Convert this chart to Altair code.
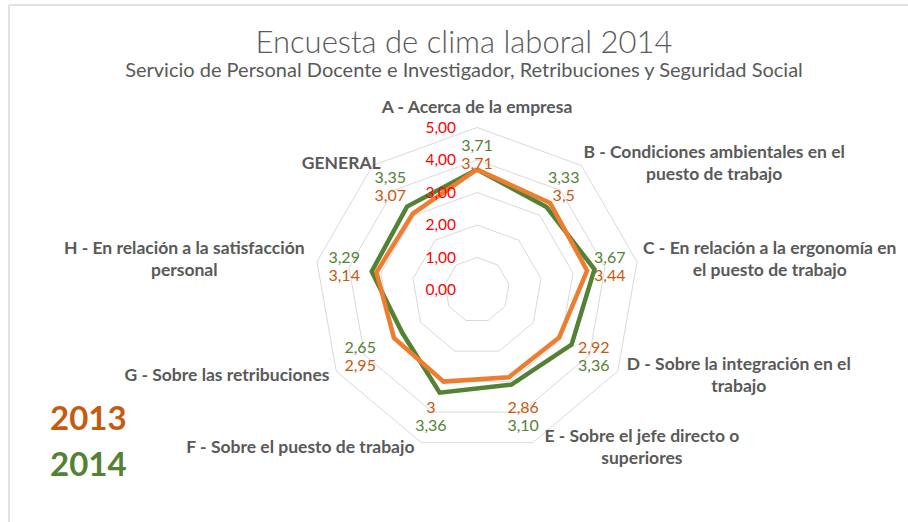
import math
import altair as alt
import pandas as pd

# ---------------- data ----------------
categories = [
    "A - Acerca de la empresa",
    "B - Condiciones ambientales en el\npuesto de trabajo",
    "C - En relación a la ergonomía en\nel puesto de trabajo",
    "D - Sobre la integración en el\ntrabajo",
    "E - Sobre el jefe directo o\nsuperiores",
    "F - Sobre el puesto de trabajo",
    "G - Sobre las retribuciones",
    "H - En relación a la satisfacción\npersonal",
    "GENERAL",
]
values_2013 = [3.71, 3.5, 3.44, 2.92, 2.86, 3, 2.95, 3.14, 3.07]
values_2014 = [3.71, 3.33, 3.67, 3.36, 3.10, 3.36, 2.65, 3.29, 3.35]
ring_ticks = [0, 1, 2, 3, 4, 5]
series_names = ["2013", "2014"]

title_text = "Encuesta de clima laboral 2014"
subtitle_text = "Servicio de Personal Docente e Investigador, Retribuciones y Seguridad Social"

# ---------------- layout constants ----------------
W, H = 908, 522
CX, CY = 477, 290          # pixel centre of the radar
UNIT = 32.5                # pixels per value unit
N = len(categories)
FONT = "Lato"
GRAY = "#595959"
C13_LINE, C14_LINE = "#ED7D31", "#548235"
C13_TXT, C14_TXT = "#C55A11", "#548235"
CAT_FS = 17.5
LINE_H = 22

# ---------------- tables built from the arrays ----------------
rows = []
for name, vals in zip(series_names, [values_2013, values_2014]):
    for i in range(N + 1):
        rows.append({"series": name, "idx": i, "value": vals[i % N]})
series_df = pd.DataFrame(rows)

ring_rows = []
for r in ring_ticks[1:]:
    for i in range(N + 1):
        ring_rows.append({"ring": r, "idx": i, "value": r})
rings_df = pd.DataFrame(ring_rows)

ticks_df = pd.DataFrame({"value": ring_ticks})

cats_df = pd.DataFrame({
    "idx": list(range(N)),
    "label": categories,
    "maxlen": [max(len(s) for s in c.split("\n")) for c in categories],
    "nlines": [len(c.split("\n")) for c in categories],
})

xs = alt.Scale(domain=[-CX / UNIT, (W - CX) / UNIT], nice=False, zero=False)
ys = alt.Scale(domain=[-(H - CY) / UNIT, CY / UNIT], nice=False, zero=False)
X = alt.X("x:Q", scale=xs, axis=None)
Y = alt.Y("y:Q", scale=ys, axis=None)

theta = f"datum.idx * 2 * PI / {N}"

def polar(ch):
    return ch.transform_calculate(
        theta=theta
    ).transform_calculate(
        x="datum.value * sin(datum.theta)",
        y="datum.value * cos(datum.theta)",
    )

# grid rings
rings = polar(alt.Chart(rings_df)).mark_line(
    color="#D9D9D9", strokeWidth=1
).encode(x=X, y=Y, detail="ring:N", order="idx:Q")

# series lines (green first, orange on top)
def series_line(name, color):
    return polar(alt.Chart(series_df)).transform_filter(
        alt.datum.series == name
    ).mark_line(color=color, strokeWidth=4.5, strokeJoin="miter").encode(
        x=X, y=Y, order="idx:Q"
    )

line14 = series_line("2014", C14_LINE)
line13 = series_line("2013", C13_LINE)

# data labels
LABEL_R = 4.15
SHIFT = 9 / UNIT
labels = alt.Chart(series_df).transform_filter(
    f"datum.idx < {N}"
).transform_calculate(
    theta=theta
).transform_calculate(
    sgn=f"(datum.series == '2014' ? 1 : -1) * ((datum.idx >= 3 && datum.idx <= 5) ? -1 : 1)",
    txt="datum.series == '2014' ? replace(format(datum.value, '.2f'), '.', ',') : replace(format(datum.value, '~g'), '.', ',')",
).transform_calculate(
    x=f"{LABEL_R} * sin(datum.theta)",
    y=f"{LABEL_R} * cos(datum.theta) + datum.sgn * {SHIFT}",
).mark_text(font=FONT, fontSize=16, baseline="middle", align="center").encode(
    x=X, y=Y, text="txt:N",
    color=alt.Color("series:N", scale=alt.Scale(domain=series_names, range=[C13_TXT, C14_TXT]), legend=None),
)

# ring value labels
tick_labels = alt.Chart(ticks_df).transform_calculate(
    x="0", y="datum.value",
    txt="replace(format(datum.value, '.2f'), '.', ',')",
).mark_text(font=FONT, fontSize=15.5, color="#FF0000", align="right", baseline="middle", dx=-21).encode(
    x=X, y=Y, text="txt:N"
)

# category labels
CW = 7.8     # approx pixels per character of the label font
GAP = 4
cat_labels = alt.Chart(cats_df).transform_calculate(
    theta=theta
).transform_calculate(
    side="sin(datum.theta) > 0.1 ? 1 : (sin(datum.theta) < -0.1 ? -1 : 0)",
).transform_calculate(
    x=f"5 * sin(datum.theta) + datum.side * ({GAP} + datum.maxlen * {CW} / 2) / {UNIT}",
    y=(f"5 * cos(datum.theta) + (datum.nlines - 1) * {LINE_H / 2} / {UNIT}"
       f" + (datum.side == 0 ? 20 / {UNIT} : (cos(datum.theta) < -0.3 ? -5 / {UNIT} : 2 / {UNIT}))"),
).mark_text(
    font=FONT, fontSize=CAT_FS, fontWeight="bold", color=GRAY, align="center",
    baseline="middle", lineBreak="\n", lineHeight=LINE_H
).encode(x=X, y=Y, text="label:N")

# titles
title = alt.Chart(pd.DataFrame({"t": [title_text]})).mark_text(
    font=FONT, fontSize=31, fontWeight=300, color=GRAY, align="center", baseline="alphabetic"
).encode(x=alt.value(464), y=alt.value(53), text="t:N")
subtitle = alt.Chart(pd.DataFrame({"t": [subtitle_text]})).mark_text(
    font=FONT, fontSize=20, color=GRAY, align="center", baseline="alphabetic"
).encode(x=alt.value(464), y=alt.value(77), text="t:N")

# year legend texts
leg_df = pd.DataFrame({"t": series_names})
leg13 = alt.Chart(leg_df).transform_filter(alt.datum.t == "2013").mark_text(
    font=FONT, fontSize=33, fontWeight="bold", color=C13_TXT, align="left", baseline="middle"
).encode(x=alt.value(50), y=alt.value(420), text="t:N")
leg14 = alt.Chart(leg_df).transform_filter(alt.datum.t == "2014").mark_text(
    font=FONT, fontSize=33, fontWeight="bold", color=C14_TXT, align="left", baseline="middle"
).encode(x=alt.value(50), y=alt.value(466), text="t:N")

# chart-area border (top and left visible in the crop)
border_top = alt.Chart(pd.DataFrame({"a": [0]})).mark_rule(color="#D9D9D9", strokeWidth=1.5).encode(
    x=alt.value(9), x2=alt.value(W), y=alt.value(5)
)
border_left = alt.Chart(pd.DataFrame({"a": [0]})).mark_rule(color="#D9D9D9", strokeWidth=1.5).encode(
    x=alt.value(9), y=alt.value(5), y2=alt.value(H)
)

chart = alt.layer(
    border_top, border_left, rings, line14, line13, tick_labels, labels, cat_labels,
    title, subtitle, leg13, leg14
).properties(
    width=W, height=H, autosize=alt.AutoSizeParams(type="none"), padding=0, background="white"
).configure_view(stroke=None)

chart.save("out.html", embed_options={"renderer": "svg", "actions": False})
